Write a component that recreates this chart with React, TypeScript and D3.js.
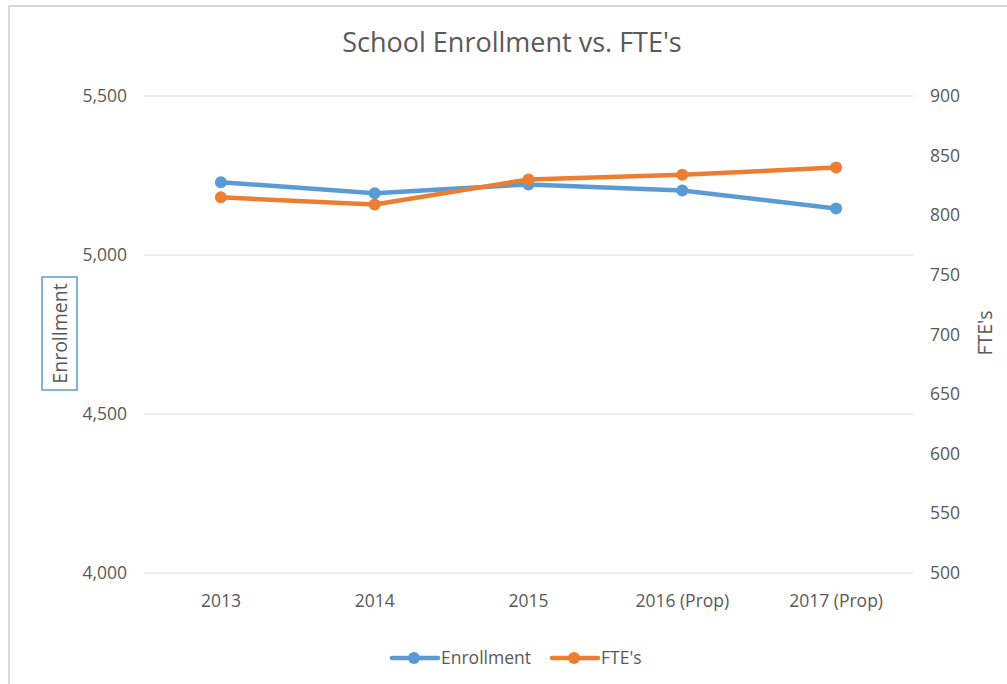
import React from "react";
import * as d3 from "d3";

const categories = ["2013", "2014", "2015", "2016 (Prop)", "2017 (Prop)"];
const enrollment = [5229, 5194, 5222, 5203, 5146];
const ftes = [815, 809, 830, 834, 840];
const leftTicks = [4000, 4500, 5000, 5500];
const rightTicks = [500, 550, 600, 650, 700, 750, 800, 850, 900];

const W = 1007;
const H = 684;
const FONT = "'Open Sans', sans-serif";
const TXT = "#595959";
const BLUE = "#5b9bd5";
const ORANGE = "#ed7d31";
const FS = 17.5;

export default function App() {
  const x = d3.scaleBand<string>().domain(categories).range([144, 913]);
  const yL = d3.scaleLinear().domain([4000, 5500]).range([573, 96]);
  const yR = d3.scaleLinear().domain([500, 900]).range([573, 96]);
  const cx = (c: string) => (x(c) ?? 0) + x.bandwidth() / 2;
  const lineL = d3.line<number>().x((_, i) => cx(categories[i])).y((d) => yL(d));
  const lineR = d3.line<number>().x((_, i) => cx(categories[i])).y((d) => yR(d));

  return (
    <svg width={W} height={H} style={{ position: "absolute", left: 0, top: 0, background: "#fff" }}>
      <rect x={0} y={0} width={W} height={H} fill="#fff" />
      <path d={`M9,${H} V6 H${W}`} fill="none" stroke="#d9d9d9" strokeWidth={2} />
      <text x={512} y={52} textAnchor="middle" fontFamily={FONT} fontSize={27} fill={TXT}>
        School Enrollment vs. FTE's
      </text>
      {leftTicks.map((t) => (
        <g key={"l" + t}>
          <line x1={144} x2={913} y1={yL(t)} y2={yL(t)} stroke="#d9d9d9" strokeWidth={1} />
          <text x={127} y={yL(t) + 6} textAnchor="end" fontFamily={FONT} fontSize={FS} fill={TXT}>
            {d3.format(",")(t)}
          </text>
        </g>
      ))}
      {rightTicks.map((t) => (
        <text key={"r" + t} x={930} y={yR(t) + 6} textAnchor="start" fontFamily={FONT} fontSize={FS} fill={TXT}>
          {t}
        </text>
      ))}
      {categories.map((c) => (
        <text key={c} x={cx(c)} y={607} textAnchor="middle" fontFamily={FONT} fontSize={FS} fill={TXT}>
          {c}
        </text>
      ))}
      <rect x={42} y={277} width={35} height={113} fill="none" stroke={BLUE} strokeWidth={1.5} />
      <text transform="translate(67,333.5) rotate(-90)" textAnchor="middle" fontFamily={FONT} fontSize={19.5} fill={TXT}>
        Enrollment
      </text>
      <text transform="translate(992,333) rotate(-90)" textAnchor="middle" fontFamily={FONT} fontSize={19.5} fill={TXT}>
        FTE's
      </text>
      <path d={lineL(enrollment) ?? ""} fill="none" stroke={BLUE} strokeWidth={4.5} strokeLinejoin="round" strokeLinecap="round" />
      {enrollment.map((v, i) => (
        <circle key={"e" + i} cx={cx(categories[i])} cy={yL(v)} r={6} fill={BLUE} />
      ))}
      <path d={lineR(ftes) ?? ""} fill="none" stroke={ORANGE} strokeWidth={4.5} strokeLinejoin="round" strokeLinecap="round" />
      {ftes.map((v, i) => (
        <circle key={"f" + i} cx={cx(categories[i])} cy={yR(v)} r={6} fill={ORANGE} />
      ))}
      <g>
        <line x1={392} x2={438} y1={658} y2={658} stroke={BLUE} strokeWidth={4.5} strokeLinecap="round" />
        <circle cx={414} cy={658} r={6} fill={BLUE} />
        <text x={441} y={664} fontFamily={FONT} fontSize={FS} fill={TXT}>Enrollment</text>
        <line x1={552} x2={598} y1={658} y2={658} stroke={ORANGE} strokeWidth={4.5} strokeLinecap="round" />
        <circle cx={574} cy={658} r={6} fill={ORANGE} />
        <text x={601} y={664} fontFamily={FONT} fontSize={FS} fill={TXT}>FTE's</text>
      </g>
    </svg>
  );
}
